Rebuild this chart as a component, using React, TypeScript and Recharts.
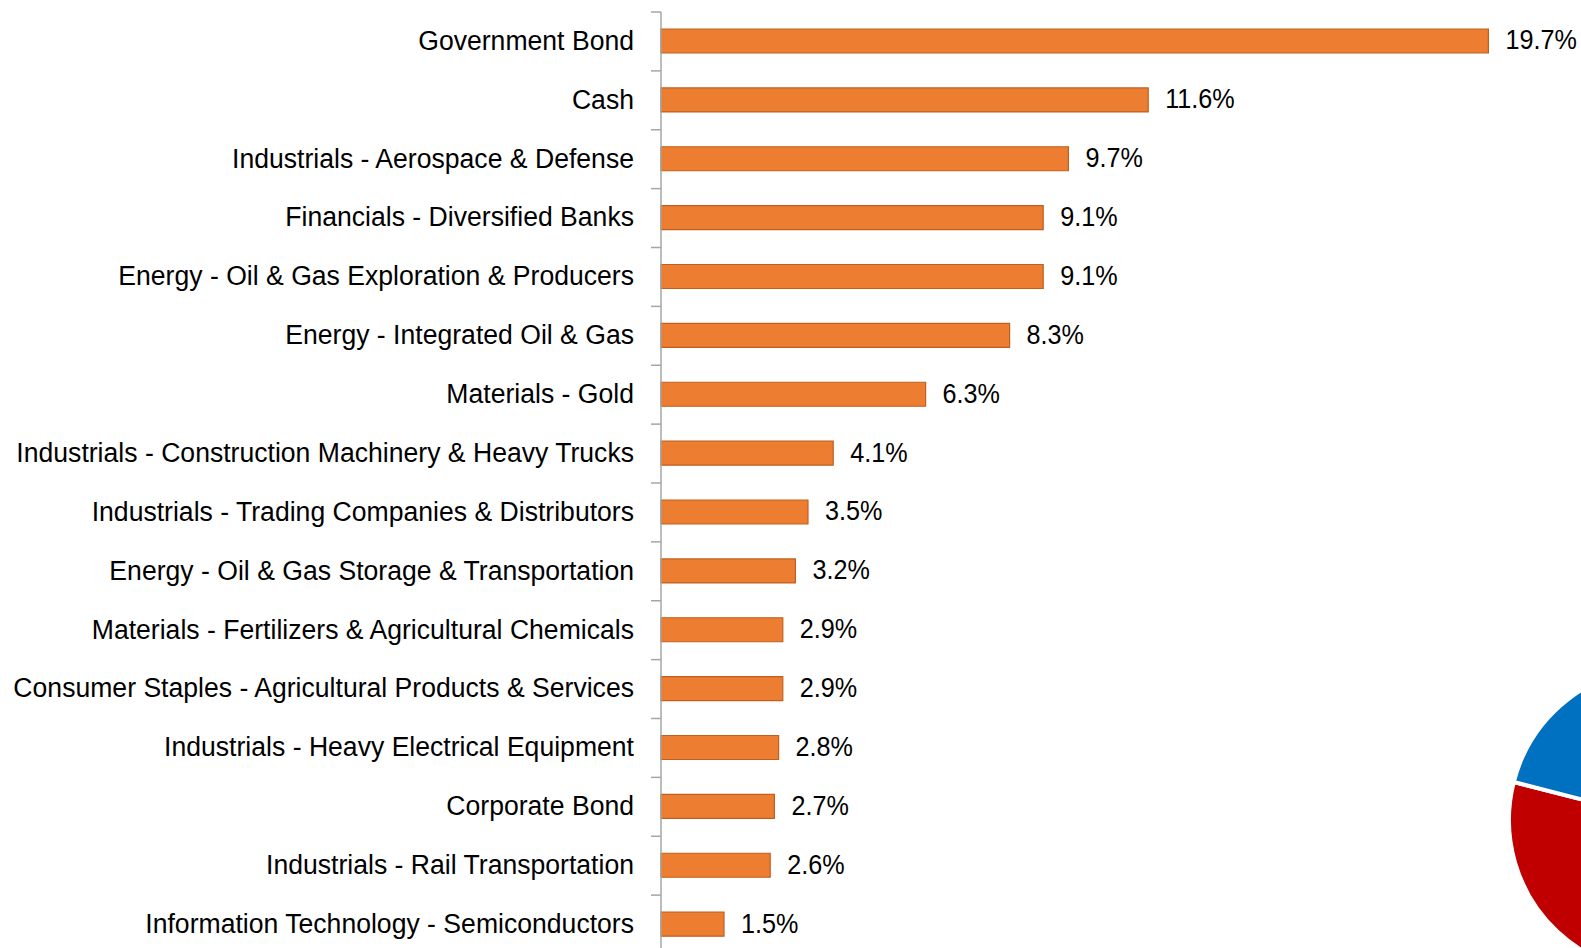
import { Bar, BarChart, Cell, LabelList, Pie, PieChart, XAxis, YAxis } from 'recharts'

const categories = [
  'Government Bond',
  'Cash',
  'Industrials - Aerospace & Defense',
  'Financials - Diversified Banks',
  'Energy - Oil & Gas Exploration & Producers',
  'Energy - Integrated Oil & Gas',
  'Materials - Gold',
  'Industrials - Construction Machinery & Heavy Trucks',
  'Industrials - Trading Companies & Distributors',
  'Energy - Oil & Gas Storage & Transportation',
  'Materials - Fertilizers & Agricultural Chemicals',
  'Consumer Staples - Agricultural Products & Services',
  'Industrials - Heavy Electrical Equipment',
  'Corporate Bond',
  'Industrials - Rail Transportation',
  'Information Technology - Semiconductors',
]

const weights = [19.7, 11.6, 9.7, 9.1, 9.1, 8.3, 6.3, 4.1, 3.5, 3.2, 2.9, 2.9, 2.8, 2.7, 2.6, 1.5]

// partially visible allocation pie (bottom right corner)
const pieNames = ['Equity', 'Fixed Income', 'Cash']
const pieValues = [45, 34, 21]
const pieColors = ['#A5A5A5', '#C00000', '#0070C0']

const data = categories.map((name, i) => ({ name, value: weights[i] }))
const pieData = pieNames.map((name, i) => ({ name, value: pieValues[i] }))

// no condensed gothic font here, so squeeze Liberation Sans horizontally
const FONT = "'Liberation Sans', Arial, sans-serif"
const AXIS_X = 661
const TOP = 12
const PLOT_H = 942
const BAND = PLOT_H / categories.length

function NarrowText({ x, y, anchor, squeeze, children }: any) {
  return (
    <g transform={`translate(${x},${y}) scale(${squeeze},1)`}>
      <text x={0} y={0} dy="0.3em" textAnchor={anchor} fontSize={28} fill="#000" fontFamily={FONT}>
        {children}
      </text>
    </g>
  )
}

function CategoryTick(props: any) {
  const { y, payload, index } = props
  return (
    <g>
      <line x1={AXIS_X - 10} x2={AXIS_X} y1={y - BAND / 2} y2={y - BAND / 2} stroke="#a6a6a6" strokeWidth={1.5} />
      {index === categories.length - 1 && (
        <line x1={AXIS_X - 10} x2={AXIS_X} y1={y + BAND / 2} y2={y + BAND / 2} stroke="#a6a6a6" strokeWidth={1.5} />
      )}
      <NarrowText x={AXIS_X - 27} y={y} anchor="end" squeeze={0.95}>
        {payload.value}
      </NarrowText>
    </g>
  )
}

function ValueLabel(props: any) {
  const { x, y, width, height, value } = props
  return (
    <NarrowText x={x + width + 17} y={y + height / 2} anchor="start" squeeze={0.9}>
      {`${value}%`}
    </NarrowText>
  )
}

export default function App() {
  return (
    <div style={{ position: 'fixed', left: 0, top: 0, width: 1581, height: 948, overflow: 'hidden', background: '#fff' }}>
      <BarChart
        width={1581}
        height={TOP + PLOT_H}
        data={data}
        layout="vertical"
        barSize={24}
        margin={{ top: TOP, right: 1581 - AXIS_X - 21 * 42, bottom: 0, left: 0 }}
      >
        <XAxis type="number" domain={[0, 21]} hide />
        <YAxis
          type="category"
          dataKey="name"
          width={AXIS_X}
          axisLine={{ stroke: '#a6a6a6', strokeWidth: 1.5 }}
          tickLine={false}
          interval={0}
          tick={<CategoryTick />}
        />
        <Bar dataKey="value" fill="#ED7D31" stroke="#C0601E" strokeWidth={1.2} isAnimationActive={false}>
          <LabelList dataKey="value" content={<ValueLabel />} />
        </Bar>
      </BarChart>
      <div style={{ position: 'absolute', left: 1662 - 170, top: 820 - 170 }}>
        <PieChart width={340} height={340} margin={{ top: 0, right: 0, bottom: 0, left: 0 }}>
          <Pie
            data={pieData}
            dataKey="value"
            cx={170}
            cy={170}
            outerRadius={153}
            startAngle={90}
            endAngle={-270}
            stroke="#fff"
            strokeWidth={4}
            isAnimationActive={false}
          >
            {pieData.map((d, i) => (
              <Cell key={d.name} fill={pieColors[i]} />
            ))}
          </Pie>
        </PieChart>
      </div>
    </div>
  )
}
